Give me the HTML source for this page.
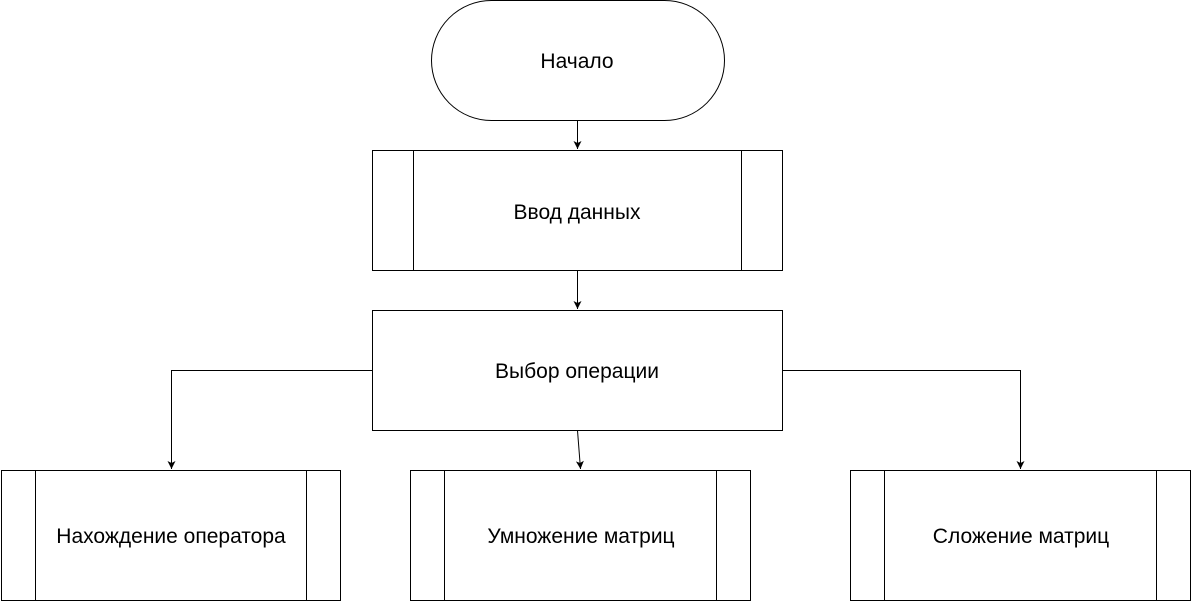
<!DOCTYPE html>
<html><head><meta charset="utf-8"><style>
html,body{margin:0;padding:0;background:#fff;width:1192px;height:601px;overflow:hidden}
</style></head><body>
<svg width="1192" height="601" xmlns="http://www.w3.org/2000/svg" font-family="Liberation Sans, Arial, sans-serif" font-size="21">
<defs><marker id="a" markerWidth="10" markerHeight="10" refX="8" refY="5" orient="auto" markerUnits="userSpaceOnUse"><path d="M0,1 L8,5 L0,9 L2,5 z" fill="#000"/></marker></defs>
<g fill="#fff" stroke="#000" stroke-width="1">
<rect x="431.5" y="0.5" width="293" height="120" rx="60" ry="60"/>
<rect x="372.5" y="150.5" width="410" height="120"/>
<line x1="413.5" y1="150.5" x2="413.5" y2="270.5"/><line x1="741.5" y1="150.5" x2="741.5" y2="270.5"/>
<rect x="372.5" y="310.5" width="410" height="120"/>
<rect x="1.5" y="470.5" width="339" height="130"/>
<line x1="35.5" y1="470.5" x2="35.5" y2="600.5"/><line x1="306.5" y1="470.5" x2="306.5" y2="600.5"/>
<rect x="410.5" y="470.5" width="340" height="130"/>
<line x1="444.5" y1="470.5" x2="444.5" y2="600.5"/><line x1="716.5" y1="470.5" x2="716.5" y2="600.5"/>
<rect x="850.5" y="470.5" width="340" height="130"/>
<line x1="884.5" y1="470.5" x2="884.5" y2="600.5"/><line x1="1156.5" y1="470.5" x2="1156.5" y2="600.5"/>
</g>
<g fill="none" stroke="#000" stroke-width="1" marker-end="url(#a)">
<path d="M577.5,120.5 V149"/>
<path d="M577.5,270.5 V309"/>
<path d="M372.5,370.5 H171.5 V469"/>
<path d="M782.5,370.5 H1020.5 V469"/>
<path d="M577.5,430.5 L580.5,469"/>
</g>
<g text-anchor="middle" fill="#000">
<text x="577" y="68">Начало</text>
<text x="577" y="219">Ввод данных</text>
<text x="577" y="378">Выбор операции</text>
<text x="171" y="543">Нахождение оператора</text>
<text x="581" y="543">Умножение матриц</text>
<text x="1021" y="543">Сложение матриц</text>
</g>
</svg>
</body></html>
